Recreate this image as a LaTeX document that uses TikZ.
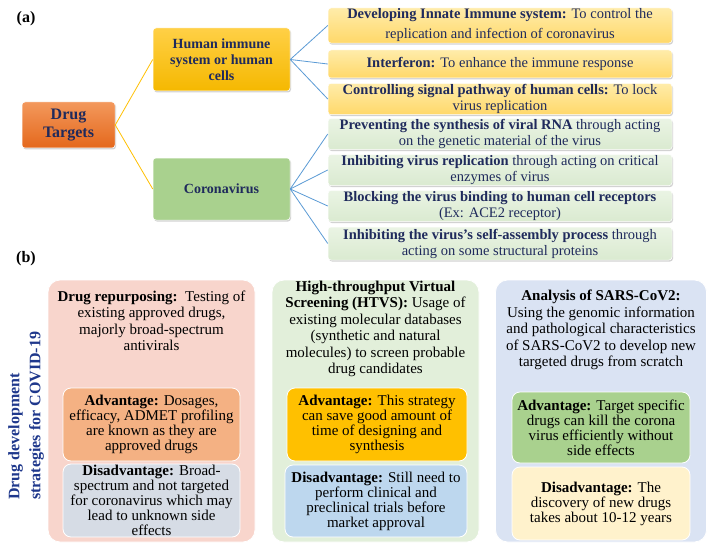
\documentclass[tikz,border=0pt]{standalone}
\usepackage{fontspec}
\setmainfont{Liberation Serif}
\usetikzlibrary{shadows}
\definecolor{navy}{RGB}{31,42,92}
\definecolor{labblue}{RGB}{31,56,140}
\definecolor{goldline}{RGB}{255,192,0}
\definecolor{blueline}{RGB}{91,155,213}
\definecolor{pinkbg}{RGB}{248,213,204}
\definecolor{pinkadv}{RGB}{244,177,131}
\definecolor{pinkdis}{RGB}{214,220,229}
\definecolor{greenbg}{RGB}{226,239,218}
\definecolor{greenadv}{RGB}{255,192,0}
\definecolor{greendis}{RGB}{189,215,238}
\definecolor{bluebg}{RGB}{218,227,243}
\definecolor{blueadv}{RGB}{169,209,142}
\definecolor{bluedis}{RGB}{255,242,204}
\tikzset{
  abox/.style={draw=white, line width=0.5pt, rounded corners=3pt,
    drop shadow={opacity=0.35, shadow xshift=1pt, shadow yshift=-1.5pt},
    align=center, text=navy, inner sep=1pt},
  dtbox/.style={abox, top color={rgb,255:red,243;green,152;blue,92}, bottom color={rgb,255:red,228;green,104;blue,28},
    minimum width=93pt, minimum height=46pt, font=\fontsize{16}{18}\selectfont\bfseries},
  midbox/.style={abox, minimum width=137pt, font=\fontsize{14}{16}\selectfont\bfseries},
  yelbox/.style={abox, top color={rgb,255:red,255;green,236;blue,170}, bottom color={rgb,255:red,255;green,216;blue,105},
    minimum width=344pt, font=\fontsize{14.5}{16}\selectfont},
  grnbox/.style={abox, top color={rgb,255:red,234;green,244;blue,228}, bottom color={rgb,255:red,218;green,234;blue,208},
    minimum width=344pt, font=\fontsize{14.5}{16}\selectfont},
  goldconn/.style={draw=goldline, line width=0.8pt},
  blueconn/.style={draw=blueline, line width=0.8pt},
  outerbox/.style={draw=white, line width=0.8pt, rounded corners=12pt, minimum width=207pt, minimum height=262pt},
  innerbox/.style={draw=white, line width=0.8pt, rounded corners=8pt, minimum width=178pt, minimum height=73pt,
    align=center, font=\fontsize{15}{15}\selectfont, inner sep=1pt},
  toptext/.style={align=center, font=\fontsize{15}{16.5}\selectfont, inner sep=0pt},
  plabel/.style={font=\fontsize{16}{18}\selectfont\bfseries, inner sep=0pt}
}
\begin{document}
\begin{tikzpicture}[x=1pt,y=-1pt]
\useasboundingbox[fill=white] (0,0) rectangle (708,548);

% ---------- (a) ----------
\node[plabel] (la) at (26,19) {(a)};

\node[dtbox] (dt) at (68.5,125) {Drug\\Targets};
\node[midbox, minimum height=63pt, top color={rgb,255:red,255;green,208;blue,70}, bottom color={rgb,255:red,245;green,184;blue,0}]
  (hum) at (221.5,59.5) {Human immune\\system or human\\cells};
\node[midbox, minimum height=62pt, fill={rgb,255:red,169;green,209;blue,142}]
  (cor) at (221.5,189) {Coronavirus};

\node[yelbox, minimum height=35pt] (r1) at (500,25.5)
  {\textbf{Developing Innate Immune system:} To control the\\[4pt]replication and infection of coronavirus};
\node[yelbox, minimum height=28pt] (r2) at (500,64)
  {\textbf{Interferon:} To enhance the immune response};
\node[yelbox, minimum height=28pt] (r3) at (500,99)
  {\textbf{Controlling signal pathway of human cells:} To lock\\virus replication};

\node[grnbox, minimum height=28pt] (g1) at (500,134)
  {\textbf{Preventing the synthesis of viral RNA} through acting\\on the genetic material of the virus};
\node[grnbox, minimum height=30pt] (g2) at (500,170)
  {\textbf{Inhibiting virus replication} through acting on critical\\enzymes of virus};
\node[grnbox, minimum height=28pt] (g3) at (500,206)
  {\textbf{Blocking the virus binding to human cell receptors}\\(Ex: ACE2 receptor)};
\node[grnbox, minimum height=33pt] (g4) at (500,243.5)
  {\textbf{Inhibiting the virus’s self-assembly process} through\\acting on some structural proteins};

\draw[goldconn] (dt.east) -- (hum.west);
\draw[goldconn] (dt.east) -- (cor.west);
\foreach \t in {r1,r2,r3} \draw[blueconn] (hum.east) -- (\t.west);
\foreach \t in {g1,g2,g3,g4} \draw[blueconn] (cor.east) -- (\t.west);

% ---------- (b) ----------
\node[plabel] (lb) at (26,259) {(b)};

\node[rotate=90, anchor=west, align=left, text=labblue, font=\fontsize{16}{21}\selectfont\bfseries, inner sep=0pt]
  (side) at (26,500) {Drug development\\strategies for COVID-19};

% box 1
\node[outerbox, fill=pinkbg] (P) at (151.5,411) {};
\node[toptext] (Pt) at (151.5,321) {\textbf{Drug repurposing:}\ \ Testing of\\existing approved drugs,\\majorly broad-spectrum\\antivirals};
\node[innerbox, fill=pinkadv, minimum width=177pt] (Pa) at (151.5,424.5) {\textbf{Advantage:} Dosages,\\efficacy, ADMET profiling\\are known as they are\\approved drugs};
\node[innerbox, fill=pinkdis, minimum width=177pt] (Pd) at (151.5,500.5) {\textbf{Disadvantage:} Broad-\\spectrum and not targeted\\for coronavirus which may\\lead to unknown side\\effects};

% box 2
\node[outerbox, fill=greenbg] (G) at (375.5,411) {};
\node[toptext] (Gt) at (375.5,329) {\textbf{High-throughput Virtual}\\\textbf{Screening (HTVS):} Usage of\\existing molecular databases\\(synthetic and natural\\molecules) to screen probable\\drug candidates};
\node[innerbox, fill=greenadv, minimum width=180pt] (Ga) at (377,424.5) {\textbf{Advantage:} This strategy\\can save good amount of\\time of designing and\\synthesis};
\node[innerbox, fill=greendis, minimum width=182pt, minimum height=72pt] (Gd) at (376,501) {\textbf{Disadvantage:} Still need to\\perform clinical and\\preclinical trials before\\market approval};

% box 3
\node[outerbox, fill=bluebg, minimum width=211pt] (B) at (601,411) {};
\node[toptext] (Bt) at (601,330) {\textbf{Analysis of SARS-CoV2:}\\Using the genomic information\\and pathological characteristics\\of SARS-CoV2 to develop new\\targeted drugs from scratch};
\node[innerbox, fill=blueadv, minimum height=71pt] (Ba) at (601,427.5) {\textbf{Advantage:} Target specific\\drugs can kill the corona\\virus efficiently without\\side effects};
\node[innerbox, fill=bluedis] (Bd) at (601,503.5) {\textbf{Disadvantage:} The\\discovery of new drugs\\takes about 10-12 years};
\end{tikzpicture}
\end{document}
